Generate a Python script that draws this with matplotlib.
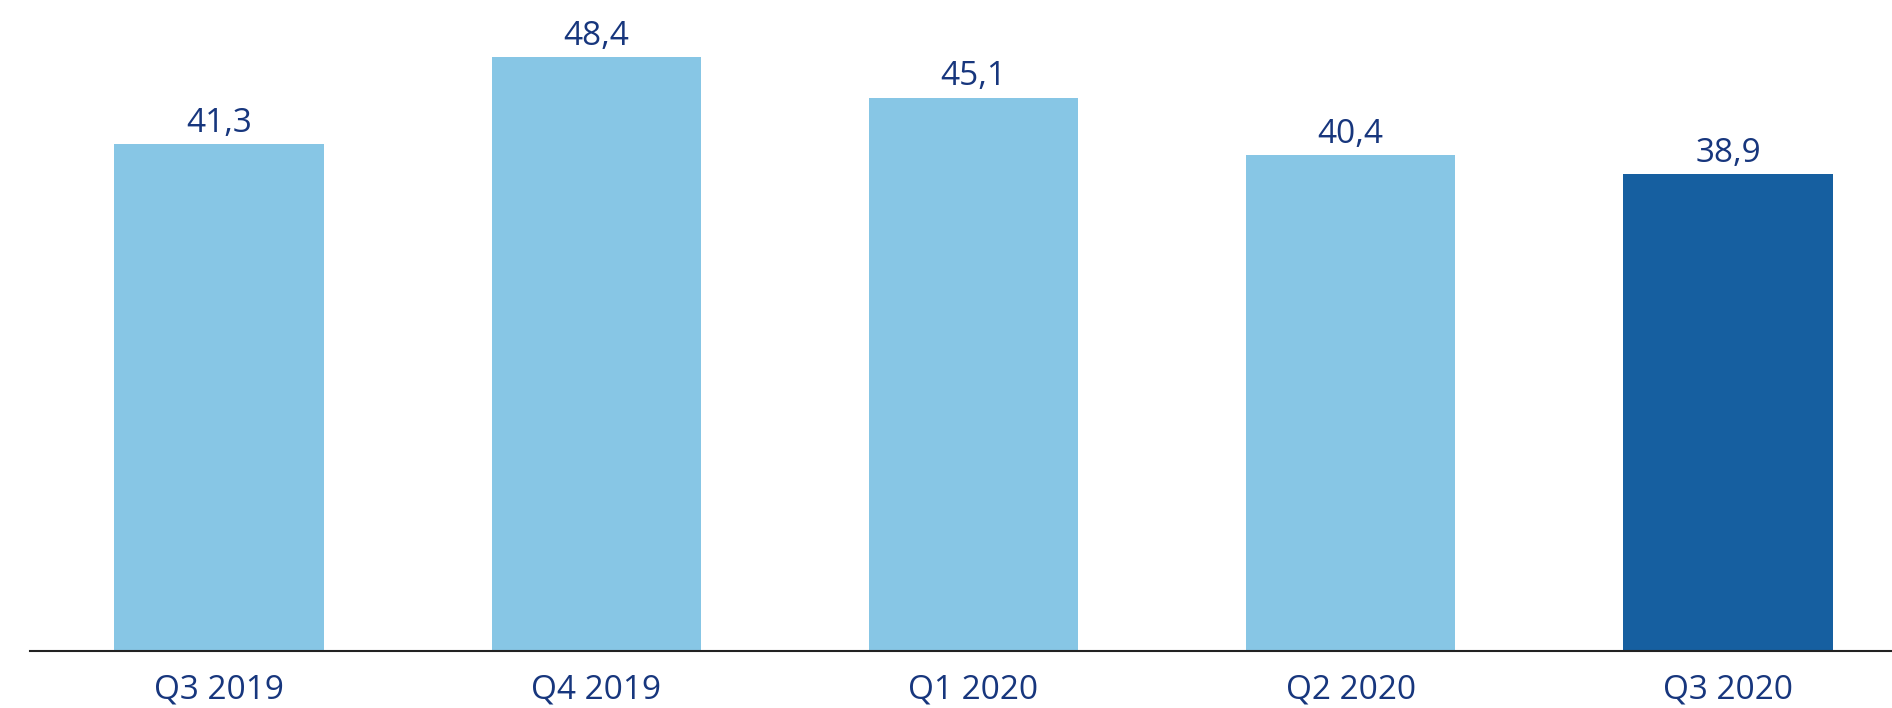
import matplotlib
matplotlib.use("Agg")
import matplotlib.pyplot as plt

quarters = ["Q3 2019", "Q4 2019", "Q1 2020", "Q2 2020", "Q3 2020"]
values = [41.3, 48.4, 45.1, 40.4, 38.9]
value_labels = ["41,3", "48,4", "45,1", "40,4", "38,9"]

light = "#87C6E5"
dark = "#165FA0"
text_col = "#17367D"
colors = [light, light, light, light, dark]

plt.rcParams['font.family'] = ['Open Sans', 'DejaVu Sans']

fig = plt.figure(figsize=(18.92, 7.08), dpi=100)
ax = fig.add_axes([30 / 1892, 57 / 708, 1 - 30 / 1892, 1 - 57 / 708 - 13 / 708])

x = range(len(quarters))
bars = ax.bar(x, values, width=0.555, color=colors, zorder=2)

for b, lab in zip(bars, value_labels):
    ax.annotate(lab, (b.get_x() + b.get_width() / 2, b.get_height()),
                xytext=(0, 3), textcoords="offset points",
                ha="center", va="bottom", fontsize=24, color=text_col)

ax.set_xlim(-0.501, 4.435)
ax.set_ylim(0, 52)
ax.set_xticks(list(x))
ax.set_xticklabels(quarters, fontsize=24, color=text_col)
ax.tick_params(axis="x", length=0, pad=16)
ax.set_yticks([])
for s in ["top", "right", "left"]:
    ax.spines[s].set_visible(False)
ax.spines["bottom"].set_color("#222222")
ax.spines["bottom"].set_linewidth(1.5)
ax.spines["bottom"].set_zorder(3)

fig.savefig("out.png", dpi=100)
